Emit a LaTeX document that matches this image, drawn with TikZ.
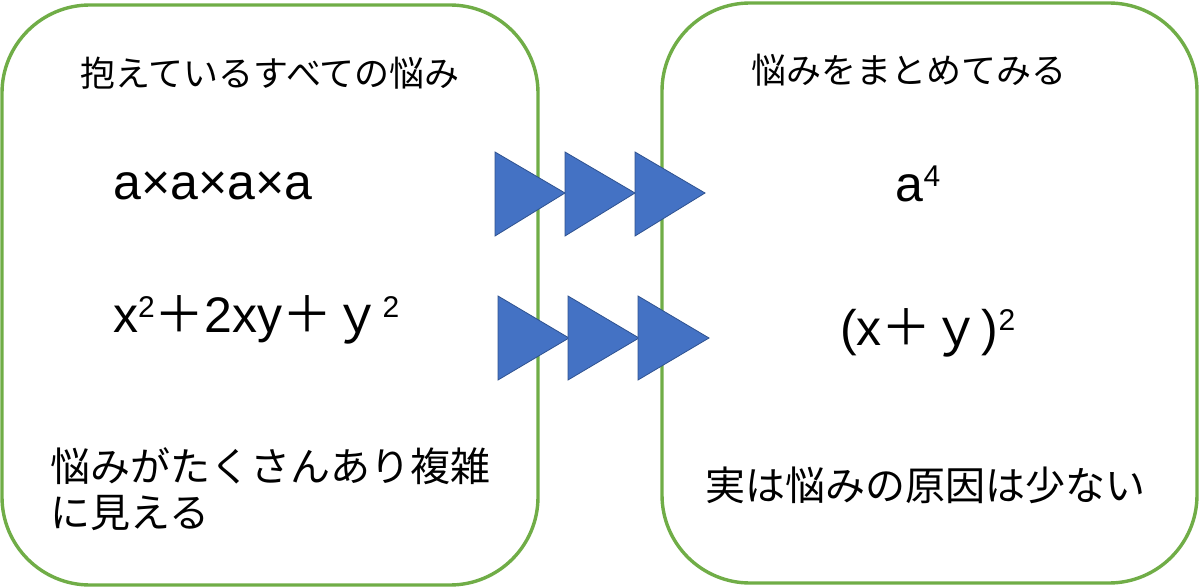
\documentclass[tikz,border=0pt]{standalone}
\usepackage{fontspec}
\setmainfont{Liberation Sans}
\newfontfamily\jp{Noto Sans CJK JP}
\usepackage{tikz}
\definecolor{boxgreen}{HTML}{70AD47}
\definecolor{triblue}{HTML}{4472C4}
\definecolor{triedge}{HTML}{2F528F}
\newcommand{\sps}[1]{\raisebox{15pt}{\fontsize{30}{30}\selectfont #1}}
\tikzset{
  panel/.style={draw=boxgreen,line width=3.4pt,rounded corners=88pt},
  tri/.style={fill=triblue,draw=triedge,line width=0.8pt},
  head/.style={anchor=base,font=\jp\fontsize{35}{42}\selectfont},
  formula/.style={anchor=base west,font=\fontsize{50}{58}\selectfont},
  note/.style={font=\jp\fontsize{40}{46}\selectfont}
}

\begin{document}
\begin{tikzpicture}[x=1pt,y=-1pt,every node/.style={inner sep=0pt}]
\useasboundingbox (0,0) rectangle (1200,588);

\begin{scope}
	\draw[panel] (2,5) rectangle (538,585);
	\draw[panel] (662,3) rectangle (1197,583);
\end{scope}

\begin{scope}
	\foreach \i in {0,1,2} {
		\path[tri] (495+70*\i,152) -- ++(70,41) -- ++(-70,43) -- cycle;
		\path[tri] (498+70*\i,296) -- ++(71,42) -- ++(-71,42) -- cycle;
	}
\end{scope}

\begin{scope}
	\node[head] (lefttitle) at (270,87) {抱えているすべての悩み};
	\node[head] (righttitle) at (909,84) {悩みをまとめてみる};
	
	\node[formula] (prod) at (113,200) {a×a×a×a};
	\node[formula] (poly) at (113,332) {x\sps{2}{\jp ＋}2xy{\jp ＋ｙ}\sps{2}};
	\node[formula,anchor=base] (power) at (918,202) {a\sps{4}};
	\node[formula] (square) at (840,345) {(x{\jp ＋ｙ})\sps{2}};
	
	\node[note,anchor=base west,align=left] (leftnote) at (50,527) {悩みがたくさんあり複雑\\に見える};
	\node[note,anchor=base] (rightnote) at (925,500) {実は悩みの原因は少ない};
\end{scope}

\end{tikzpicture}
\end{document}
